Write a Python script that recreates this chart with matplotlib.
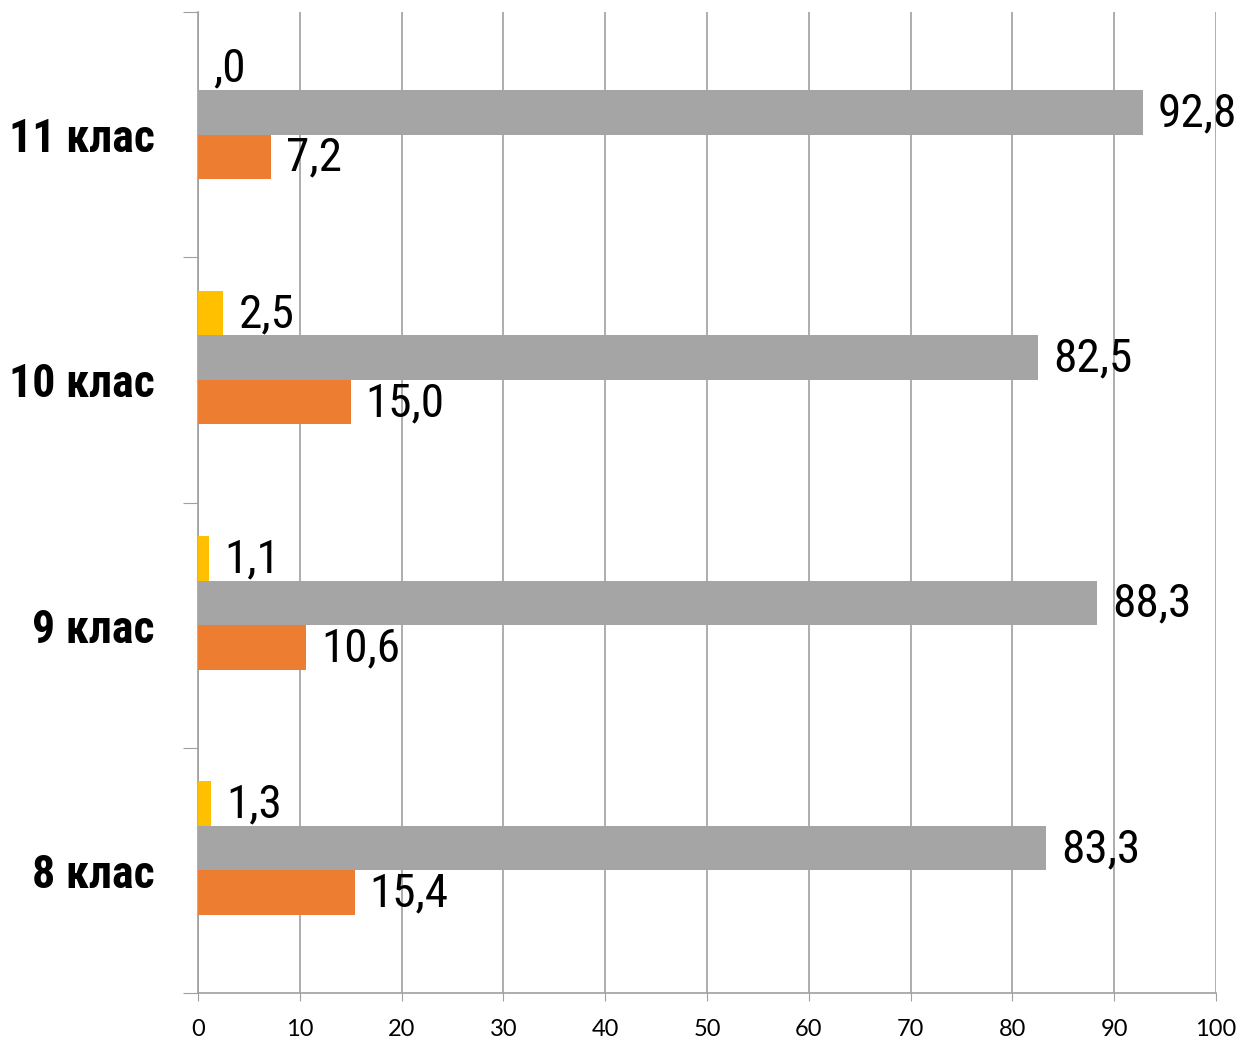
import matplotlib
matplotlib.use("Agg")
import matplotlib.pyplot as plt
import numpy as np

categories = ["8 клас", "9 клас", "10 клас", "11 клас"]
orange_vals = [15.4, 10.6, 15.0, 7.2]
gray_vals = [83.3, 88.3, 82.5, 92.8]
yellow_vals = [1.3, 1.1, 2.5, 0.0]
orange_labels = ["15,4", "10,6", "15,0", "7,2"]
gray_labels = ["83,3", "88,3", "82,5", "92,8"]
yellow_labels = ["1,3", "1,1", "2,5", ",0"]
xticks = list(range(0, 101, 10))

narrow = ["Liberation Sans Narrow", "Roboto Condensed", "DejaVu Sans"]

fig = plt.figure(figsize=(12.41, 10.38), dpi=100)
ax = fig.add_axes([198 / 1241, 45 / 1038, 1018 / 1241, 981 / 1038])

y = np.arange(len(categories))
h = 44.5 / 245  # one bar slot, 4 slots per category (last one empty)

ax.barh(y + 1.5 * h, yellow_vals, height=h, color="#FFC000", zorder=3)
ax.barh(y + 0.5 * h, gray_vals, height=h, color="#A5A5A5", zorder=3)
ax.barh(y - 0.5 * h, orange_vals, height=h, color="#ED7D31", zorder=3)

for vals, labs, off in [(yellow_vals, yellow_labels, 1.5),
                        (gray_vals, gray_labels, 0.5),
                        (orange_vals, orange_labels, -0.5)]:
    for i in range(len(vals)):
        ax.annotate(labs[i], (vals[i], y[i] + off * h), xytext=(15, -1),
                    textcoords="offset pixels", va="center", ha="left",
                    fontsize=34, family=narrow, fontstretch="condensed",
                    color="black", zorder=4)

ax.set_xlim(0, 100)
ax.set_ylim(-0.5, 3.5)
ax.set_xticks(xticks)
ax.set_xticklabels([str(t) for t in xticks], family=["Lato", "DejaVu Sans"], fontsize=17)
ax.tick_params(axis="x", length=6, color="#a0a0a0", pad=13)

ax.set_yticks(np.arange(-0.5, 4, 1))
ax.set_yticklabels([])
ax.tick_params(axis="y", which="major", length=11, color="#a0a0a0")
ax.set_yticks(y, minor=True)
ax.set_yticklabels(categories, minor=True, family=narrow, fontsize=33,
                   fontweight="bold", fontstretch="condensed")
ax.tick_params(axis="y", which="minor", length=0, pad=31)

ax.grid(axis="x", color="#a0a0a0", linewidth=1.2, zorder=0)
for s in ["top", "right"]:
    ax.spines[s].set_visible(False)
for s in ["left", "bottom"]:
    ax.spines[s].set_color("#a0a0a0")
    ax.spines[s].set_linewidth(1.2)

fig.savefig("out.png", dpi=100)
